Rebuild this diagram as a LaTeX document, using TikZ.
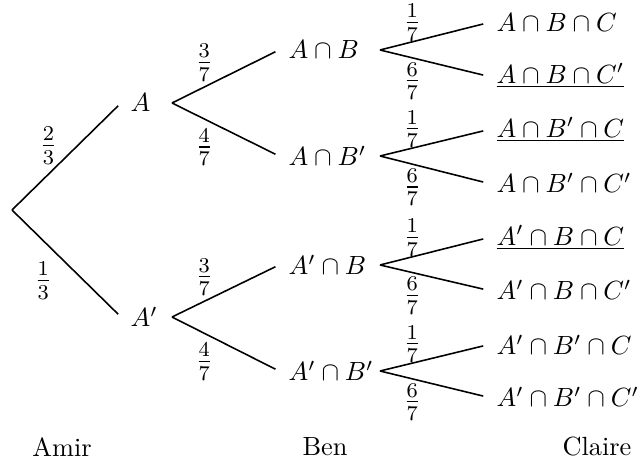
\documentclass[tikz,border=0pt]{standalone}
\usepackage{amsmath}
\usetikzlibrary{positioning}
\begin{document}
\begin{tikzpicture}[x=0.38pt,y=-0.38pt,line width=0.6pt,ev/.style={anchor=west},br/.style={shorten >=1.5pt},fr/.style={font=\large},who/.style={font=\normalsize}]
\useasboundingbox (0,0) rectangle (640,464);
\coordinate (root) at (12,210);
\coordinate (f1) at (172,0);
\coordinate (f2) at (380,0);
% Amir
\node[ev] (a) at (121,103) {$A$};
\node[ev] (an) at (121,317) {$A'$};
% Ben
\node[ev] (ab) at (279,50) {$A\cap B$};
\node[ev] (abn) at (279,156) {$A\cap B'$};
\node[ev] (anb) at (279,265) {$A'\cap B$};
\node[ev] (anbn) at (279,371) {$A'\cap B'$};
% Claire
\node[ev] (abc) at (487,23) {$A\cap B\cap C$};
\node[ev] (abcn) at (487,76) {$\underline{A\cap B\cap C'}$};
\node[ev] (abnc) at (487,130) {$\underline{A\cap B'\cap C}$};
\node[ev] (abncn) at (487,183) {$A\cap B'\cap C'$};
\node[ev] (anbc) at (487,238) {$\underline{A'\cap B\cap C}$};
\node[ev] (anbcn) at (487,290) {$A'\cap B\cap C'$};
\node[ev] (anbnc) at (487,345) {$A'\cap B'\cap C$};
\node[ev] (anbncn) at (487,397) {$A'\cap B'\cap C'$};
\node[who] (amir) at (62,447) {Amir};
\node[who] (ben) at (325,447) {Ben};
\node[who] (claire) at (597,447) {Claire};
\draw[br](root)--node[fr,pos=.6,left=4pt]{$\frac23$}(a.west);
\draw[br](root)--node[fr,pos=.66,left=8.5pt]{$\frac13$}(an.west);
\draw[br](a.west-|f1)--node[fr,pos=.3,above,inner sep=2pt]{$\frac37$}(ab.west);
\draw[br](a.west-|f1)--node[fr,pos=.3,below,inner sep=3.5pt]{$\frac47$}(abn.west);
\draw[br](an.west-|f1)--node[fr,pos=.3,above,inner sep=2pt]{$\frac37$}(anb.west);
\draw[br](an.west-|f1)--node[fr,pos=.3,below,inner sep=3.5pt]{$\frac47$}(anbn.west);
\draw[br](ab.west-|f2)--node[fr,pos=.3,above,inner sep=0pt]{$\frac17$}(abc.west);
\draw[br](ab.west-|f2)--node[fr,pos=.3,below,inner sep=1.5pt]{$\frac67$}(abcn.west);
\draw[br](abn.west-|f2)--node[fr,pos=.3,above,inner sep=0pt]{$\frac17$}(abnc.west);
\draw[br](abn.west-|f2)--node[fr,pos=.3,below,inner sep=1.5pt]{$\frac67$}(abncn.west);
\draw[br](anb.west-|f2)--node[fr,pos=.3,above,inner sep=0pt]{$\frac17$}(anbc.west);
\draw[br](anb.west-|f2)--node[fr,pos=.3,below,inner sep=1.5pt]{$\frac67$}(anbcn.west);
\draw[br](anbn.west-|f2)--node[fr,pos=.3,above,inner sep=0pt]{$\frac17$}(anbnc.west);
\draw[br](anbn.west-|f2)--node[fr,pos=.3,below,inner sep=1.5pt]{$\frac67$}(anbncn.west);
\end{tikzpicture}
\end{document}
